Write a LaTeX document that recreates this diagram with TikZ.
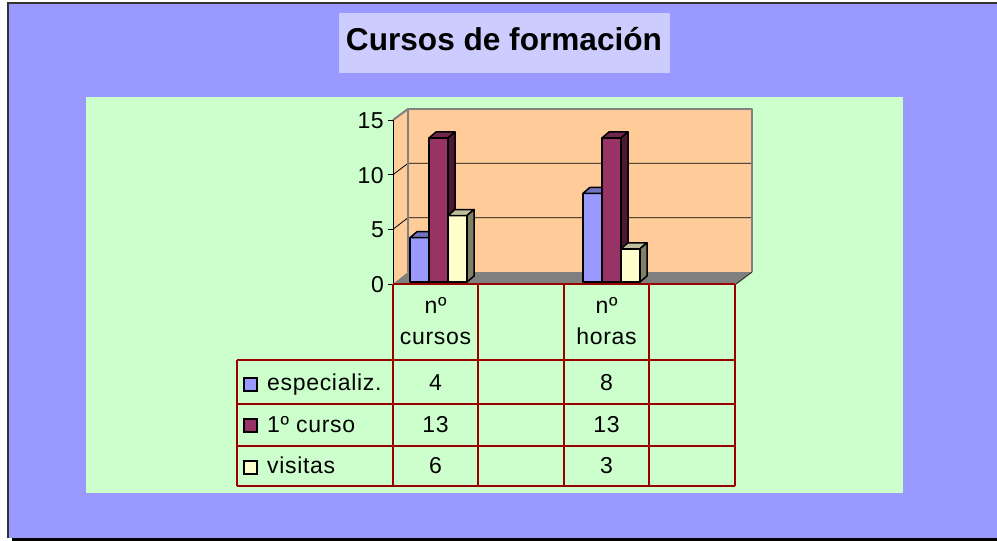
\documentclass[tikz,border=0pt]{standalone}
\usepackage{fontspec}
\setmainfont{Liberation Sans}
\newfontfamily\spaced[LetterSpace=3]{Liberation Sans}
\definecolor{bgblue}{HTML}{9999FF}
\definecolor{titlebg}{HTML}{CCCCFF}
\definecolor{plotgreen}{HTML}{CCFFCC}
\definecolor{wall}{HTML}{FFCC99}
\definecolor{floorgray}{HTML}{808080}
\definecolor{sBlue}{HTML}{9999FF}
\definecolor{sMaroon}{HTML}{993366}
\definecolor{sYellow}{HTML}{FFFFCC}
\definecolor{tablered}{HTML}{990000}
\definecolor{framedark}{HTML}{333333}
\newcommand{\drawbarthree}[3]{%
  \pgfmathsetmacro{\btop}{282-#2*11.08}%
  \pgfmathsetmacro{\bx}{#1+19}%
  \pgfmathsetmacro{\bxx}{#1+26}%
  \pgfmathsetmacro{\bxb}{#1+7}%
  \pgfmathsetmacro{\btopb}{\btop-6}%
  \filldraw[barline,fill=#3] (#1,282) rectangle (\bx,\btop);
  \filldraw[barline,fill=#3!75!black] (#1,\btop) -- (\bxb,\btopb) -- (\bxx,\btopb) -- (\bx,\btop) -- cycle;
  \filldraw[barline,fill=#3!50!black] (\bx,282) -- (\bxx,276) -- (\bxx,\btopb) -- (\bx,\btop) -- cycle;
}
\begin{document}
\begin{tikzpicture}[x=1pt,y=-1pt,
  barline/.style={draw=black,line width=1.5,line join=round},
  tabtxt/.style={inner sep=0,anchor=base,font=\spaced\fontsize{23}{23}\selectfont},
  legtxt/.style={tabtxt,anchor=base west},
  axtxt/.style={inner sep=0,anchor=east,font=\spaced\fontsize{23}{23}\selectfont},
  tline/.style={draw=tablered,line width=1.2},
  legsq/.style={draw=black,line width=1.2}]
\useasboundingbox (0,0) rectangle (997,541);
\fill[white] (0,0) rectangle (997,541);
% frame
\fill[bgblue] (8,3) rectangle (997,538);
\draw[framedark,line width=2] (8,538) -- (8,3) -- (997,3);
\fill[black] (12,538) rectangle (997,541);
% title
\fill[titlebg] (339,13) rectangle (670,73);
\node[inner sep=0,anchor=base,font=\bfseries\fontsize{31.6}{31.6}\selectfont] (title) at (504,50.5) {Cursos de formación};
% plot area
\fill[plotgreen] (86,97) rectangle (903,493);
% walls
\fill[wall] (393,120) -- (408,109) -- (408,272) -- (393,284) -- cycle;
\fill[wall] (408,109) rectangle (752,272);
\fill[floorgray] (393,284) -- (408,272) -- (752,272) -- (736,284) -- cycle;
% gridlines
\draw[black,line width=0.8] (393,229.3) -- (408,217.7) -- (752,217.7);
\draw[black,line width=0.8] (393,174.7) -- (408,163.3) -- (752,163.3);
\draw[floorgray,line width=2,line join=round] (408,272) -- (408,109) -- (752,109) -- (752,272);
\draw[floorgray,line width=2] (393,120) -- (408,109);
\draw[framedark,line width=1] (736,284) -- (752,272);
% axis
\draw[black,line width=1] (393,120) -- (393,284);
\foreach \yy in {120,174.7,229.3,284} \draw[black,line width=1] (388,\yy) -- (393,\yy);
\node[axtxt] (l15) at (384,120.5) {15};
\node[axtxt] (l10) at (384,175.2) {10};
\node[axtxt] (l5) at (384,229.8) {5};
\node[axtxt] (l0) at (384,284.5) {0};
% bars
\drawbarthree{410}{4}{sBlue}
\drawbarthree{429}{13}{sMaroon}
\drawbarthree{448}{6}{sYellow}
\drawbarthree{583}{8}{sBlue}
\drawbarthree{602}{13}{sMaroon}
\drawbarthree{621}{3}{sYellow}
% table
\draw[tline] (393,284) -- (735,284);
\foreach \xx in {393,478,564,649,735} \draw[tline] (\xx,284) -- (\xx,486);
\foreach \yy in {360,404,446,486} \draw[tline] (237,\yy) -- (735,\yy);
\draw[tline] (237,360) -- (237,486);
\node[tabtxt] (h1a) at (435.5,313) {nº};
\node[tabtxt] (h1b) at (435.5,344) {cursos};
\node[tabtxt] (h2a) at (606.5,313) {nº};
\node[tabtxt] (h2b) at (606.5,344) {horas};
\node[tabtxt] (v11) at (435.5,390) {4};
\node[tabtxt] (v21) at (435.5,432) {13};
\node[tabtxt] (v31) at (435.5,473) {6};
\node[tabtxt] (v12) at (606.5,390) {8};
\node[tabtxt] (v22) at (606.5,432) {13};
\node[tabtxt] (v32) at (606.5,473) {3};
\filldraw[legsq,fill=sBlue] (244,378) rectangle (257,391);
\filldraw[legsq,fill=sMaroon] (244,419) rectangle (257,432);
\filldraw[legsq,fill=sYellow] (244,461) rectangle (257,474);
\node[legtxt] (s1) at (267,390) {especializ.};
\node[legtxt] (s2) at (267,432) {1º curso};
\node[legtxt] (s3) at (267,473) {visitas};
\end{tikzpicture}
\end{document}
